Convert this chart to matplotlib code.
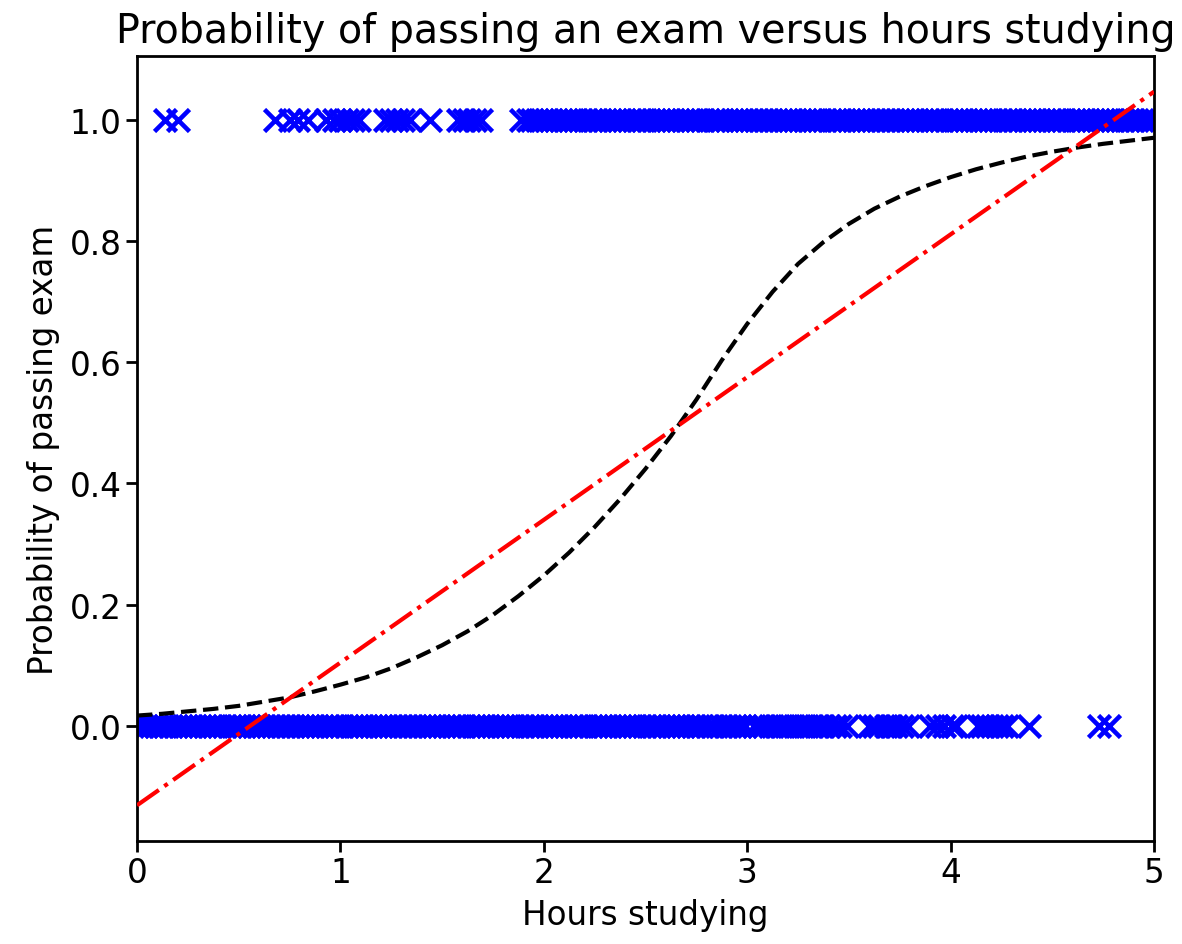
import matplotlib
matplotlib.use("Agg")
import matplotlib.pyplot as plt

# --- data ---
pass_hours = [0.14, 0.20,
              0.68, 0.75, 0.79, 0.84, 0.93, 0.97, 1.00, 1.03, 1.06, 1.09,
              1.22, 1.25, 1.28, 1.31, 1.34, 1.44,
              1.58, 1.61, 1.63, 1.66, 1.69,
              1.89, 1.92, 1.94, 1.965, 1.99, 2.01, 2.035, 2.06, 2.085, 2.11,
              2.13, 2.155, 2.18, 2.205, 2.23, 2.25, 2.275, 2.30, 2.325, 2.35,
              2.37, 2.395, 2.42, 2.445, 2.47, 2.49, 2.515, 2.54, 2.565, 2.59,
              2.61, 2.635, 2.66, 2.685, 2.71, 2.73, 2.755, 2.78, 2.805, 2.835,
              2.855, 2.875, 2.90, 2.925, 2.95, 2.97, 2.995, 3.02, 3.045, 3.07,
              3.09, 3.115, 3.14, 3.165, 3.19, 3.21, 3.235, 3.26, 3.285, 3.31,
              3.33, 3.355, 3.38, 3.405, 3.43, 3.45, 3.475, 3.50, 3.525, 3.55,
              3.57, 3.595, 3.62, 3.645, 3.67, 3.69, 3.715, 3.74, 3.765, 3.79,
              3.81, 3.835, 3.86, 3.885, 3.91, 3.93, 3.955, 3.98, 4.005, 4.03,
              4.05, 4.075, 4.10, 4.125, 4.15, 4.17, 4.195, 4.22, 4.245, 4.27,
              4.29, 4.315, 4.34, 4.365, 4.39, 4.41, 4.435, 4.46, 4.485, 4.51,
              4.53, 4.555, 4.58, 4.605, 4.63, 4.65, 4.675, 4.70, 4.725, 4.75,
              4.77, 4.795, 4.82, 4.845, 4.87, 4.89, 4.915, 4.94, 4.965, 4.99]
pass_result = [1.0] * len(pass_hours)

fail_hours = [0.00, 0.02, 0.045, 0.07, 0.095, 0.12, 0.14, 0.165, 0.19, 0.215,
              0.24, 0.26, 0.285, 0.31, 0.335, 0.36, 0.38, 0.405, 0.43, 0.455,
              0.48, 0.50, 0.525, 0.55, 0.575, 0.60, 0.62, 0.645, 0.67, 0.695,
              0.72, 0.74, 0.765, 0.79, 0.815, 0.84, 0.86, 0.885, 0.91, 0.935,
              0.96, 0.98, 1.005, 1.03, 1.055, 1.08, 1.10, 1.125, 1.15, 1.175,
              1.20, 1.22, 1.245, 1.27, 1.295, 1.32, 1.34, 1.365, 1.39, 1.415,
              1.44, 1.46, 1.485, 1.51, 1.535, 1.56, 1.58, 1.605, 1.63, 1.655,
              1.68, 1.70, 1.725, 1.75, 1.775, 1.80, 1.82, 1.845, 1.87, 1.895,
              1.92, 1.94, 1.965, 1.99, 2.015, 2.04, 2.06, 2.085, 2.11, 2.135,
              2.16, 2.18, 2.205, 2.23, 2.255, 2.28, 2.30, 2.325, 2.35, 2.375,
              2.40, 2.42, 2.445, 2.47, 2.495, 2.52, 2.54, 2.565, 2.59, 2.615,
              2.64, 2.66, 2.685, 2.71, 2.735, 2.76, 2.78, 2.805, 2.83, 2.865,
              2.89, 2.915, 2.94, 2.965, 2.99, 3.035, 3.06, 3.085, 3.11, 3.14,
              3.165, 3.19, 3.215, 3.245, 3.27, 3.295, 3.32, 3.35, 3.375, 3.40,
              3.43, 3.455, 3.49, 3.60, 3.625, 3.65, 3.68, 3.705, 3.73,
              3.76, 3.79, 3.90, 3.935, 3.97, 4.005, 4.025, 4.135, 4.155,
              4.18, 4.205, 4.23, 4.255, 4.275, 4.385, 4.73, 4.78]
fail_result = [0.0] * len(fail_hours)

# logistic model curve, read point by point
curve_hours = [0.000, 0.125, 0.250, 0.375, 0.500, 0.625, 0.750, 0.875,
               1.000, 1.125, 1.250, 1.375, 1.500, 1.625, 1.750, 1.875,
               2.000, 2.125, 2.250, 2.375, 2.500, 2.625, 2.750, 2.875,
               3.000, 3.125, 3.250, 3.375, 3.500, 3.625, 3.750, 3.875,
               4.000, 4.125, 4.250, 4.375, 4.500, 4.625, 4.750, 4.875, 5.000]
curve_prob = [0.017, 0.020, 0.024, 0.028, 0.033, 0.040, 0.047, 0.057,
              0.068, 0.080, 0.095, 0.113, 0.133, 0.156, 0.183, 0.214,
              0.248, 0.286, 0.328, 0.374, 0.424, 0.478, 0.538, 0.603,
              0.663, 0.716, 0.762, 0.798, 0.828, 0.853, 0.873, 0.890,
              0.905, 0.918, 0.929, 0.939, 0.947, 0.954, 0.960, 0.965, 0.970]

# linear fit
line_hours = [0.0, 5.0]
line_prob = [-0.131, 1.046]

# --- plot ---
plt.rcParams['font.family'] = ['DejaVu Sans']
fig = plt.figure(figsize=(11.82, 9.45), dpi=100)
ax = fig.add_axes([137/1182, 1-842/945, (1154-137)/1182, (842-57)/945])

ax.plot(pass_hours, pass_result, 'x', color='blue', markersize=15.5, mew=3.3, zorder=2)
ax.plot(fail_hours, fail_result, 'x', color='blue', markersize=15.5, mew=3.3, zorder=2)
ax.plot(curve_hours, curve_prob, '--', color='black', lw=3.0, zorder=3)
ax.plot(line_hours, line_prob, '-.', color='red', lw=3.0, zorder=3)

ax.set_xlim(0, 5)
ax.set_yticks([0.0, 0.2, 0.4, 0.6, 0.8, 1.0])
ax.set_yticklabels(['0.0', '0.2', '0.4', '0.6', '0.8', '1.0'])
ax.set_xticks([0, 1, 2, 3, 4, 5])
ax.tick_params(labelsize=23.5, length=8, width=2, pad=3)
for s in ax.spines.values():
    s.set_linewidth(2)
ax.set_xlabel('Hours studying', fontsize=23.5, labelpad=6)
ax.set_ylabel('Probability of passing exam', fontsize=23.5, labelpad=7)
ax.set_title('Probability of passing an exam versus hours studying', fontsize=28.5, pad=10)

fig.savefig('out.png', dpi=100)
